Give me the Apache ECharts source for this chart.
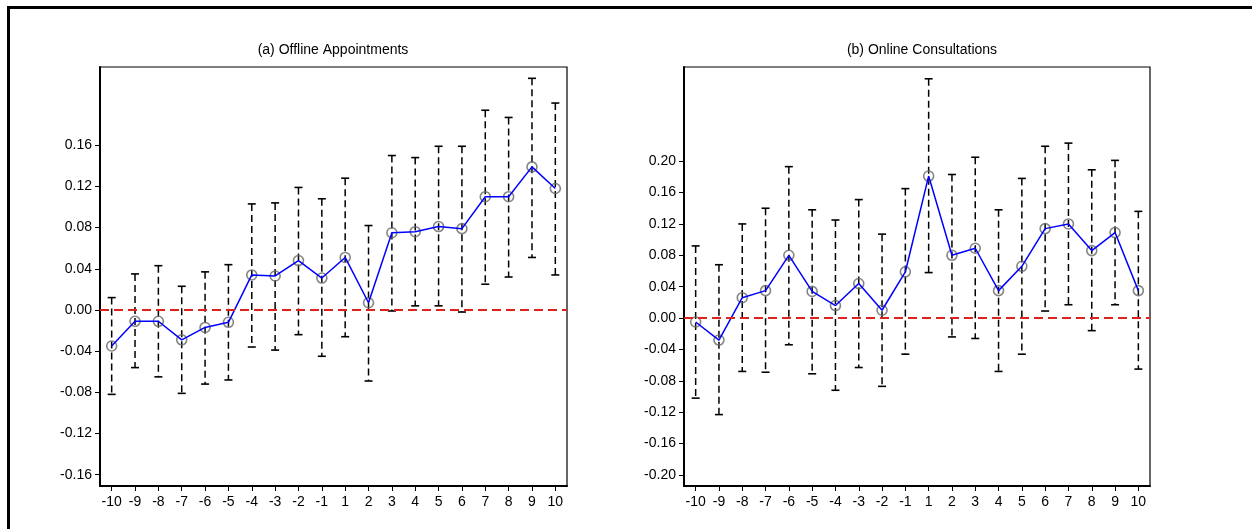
<!DOCTYPE html>
<html>
<head>
<meta charset="utf-8">
<script src="https://cdn.jsdelivr.net/npm/echarts@6/dist/echarts.min.js"></script>
<style>html,body{margin:0;padding:0;background:#fff}#c{width:1252px;height:529px}</style>
</head>
<body>
<div id="c"></div>
<script>
var periods = ['-10','-9','-8','-7','-6','-5','-4','-3','-2','-1','1','2','3','4','5','6','7','8','9','10'];

var offlineEst   = [-0.035,-0.011,-0.011,-0.029,-0.017,-0.012,0.034,0.033,0.048,0.031,0.051,0.007,0.075,0.076,0.081,0.079,0.110,0.110,0.139,0.118];
var offlineLower = [-0.082,-0.056,-0.065,-0.081,-0.072,-0.068,-0.036,-0.039,-0.024,-0.045,-0.026,-0.069,-0.001,0.004,0.004,-0.002,0.025,0.032,0.051,0.034];
var offlineUpper = [0.012,0.035,0.043,0.023,0.037,0.044,0.103,0.104,0.119,0.108,0.128,0.082,0.150,0.148,0.159,0.159,0.194,0.187,0.225,0.201];

var onlineEst   = [-0.005,-0.028,0.026,0.035,0.080,0.034,0.016,0.044,0.010,0.059,0.181,0.080,0.089,0.035,0.066,0.114,0.120,0.086,0.109,0.035];
var onlineLower = [-0.102,-0.123,-0.068,-0.069,-0.034,-0.071,-0.092,-0.063,-0.087,-0.046,0.058,-0.024,-0.026,-0.068,-0.046,0.009,0.017,-0.016,0.017,-0.065];
var onlineUpper = [0.092,0.068,0.120,0.140,0.193,0.138,0.125,0.151,0.107,0.165,0.305,0.183,0.205,0.138,0.178,0.219,0.223,0.189,0.201,0.136];

var offlineTicks = [-0.16,-0.12,-0.08,-0.04,0,0.04,0.08,0.12,0.16];
var onlineTicks  = [-0.20,-0.16,-0.12,-0.08,-0.04,0,0.04,0.08,0.12,0.16,0.20];

var titles = ['(a) Offline Appointments','(b) Online Consultations'];

var FONT = 'Liberation Sans, Arial, Helvetica, sans-serif';

function fmt(v){ var s = v.toFixed(2); return s === '-0.00' ? '0.00' : s; }

function bars(lo, hi){ return lo.map(function(l,i){ return [i, l, hi[i]]; }); }

function renderBar(params, api){
  var x = api.value(0), lo = api.value(1), hi = api.value(2);
  var pH = api.coord([x, hi]), pL = api.coord([x, lo]);
  var w = 4;
  var st = {stroke:'#000', lineWidth:1.6};
  return {type:'group', children:[
    {type:'line', shape:{x1:pH[0],y1:pH[1],x2:pL[0],y2:pL[1]}, style:{stroke:'#000', lineWidth:1.5, lineDash:[7,4]}},
    {type:'line', shape:{x1:pH[0]-w,y1:pH[1],x2:pH[0]+w,y2:pH[1]}, style:st},
    {type:'line', shape:{x1:pL[0]-w,y1:pL[1],x2:pL[0]+w,y2:pL[1]}, style:st}
  ]};
}

function yAxis(idx, min, max, ticks){
  return {
    type:'value', gridIndex:idx, min:min, max:max,
    splitLine:{show:false},
    axisLine:{show:true, lineStyle:{color:'#000', width:2}},
    axisTick:{show:true, length:5, customValues:ticks, lineStyle:{color:'#000', width:1}},
    axisLabel:{customValues:ticks, formatter:fmt, color:'#000', fontSize:14, fontFamily:FONT, margin:8}
  };
}
function xAxis(idx){
  return {
    type:'category', gridIndex:idx, data:periods, boundaryGap:true,
    axisLine:{show:true, onZero:false, lineStyle:{color:'#000', width:2}},
    axisTick:{show:true, alignWithLabel:true, interval:0, length:5, lineStyle:{color:'#000', width:1}},
    axisLabel:{interval:0, color:'#000', fontSize:14, fontFamily:FONT, margin:9},
    splitLine:{show:false}
  };
}

function seriesFor(idx, est, lo, hi){
  return [
    {type:'custom', xAxisIndex:idx, yAxisIndex:idx, data:bars(lo,hi), renderItem:renderBar, z:2, silent:true},
    {type:'scatter', xAxisIndex:idx, yAxisIndex:idx, data:est, symbol:'circle', symbolSize:10,
     itemStyle:{color:'rgba(0,0,0,0)', borderColor:'#666666', borderWidth:1.6}, z:3, silent:true},
    {type:'line', xAxisIndex:idx, yAxisIndex:idx, data:est, showSymbol:false, z:4, silent:true,
     lineStyle:{color:'#0000ff', width:1.5},
     markLine:{silent:true, symbol:['none','none'], label:{show:false},
       lineStyle:{color:'#e0221c', width:2, type:[9,5]}, data:[{yAxis:0}]}}
  ];
}

var chart = echarts.init(document.getElementById('c'), null, {renderer:'canvas'});
chart.setOption({
  animation:false,
  backgroundColor:'#fff',
  title:[
    {text:titles[0], left:328, top:38, textAlign:'center', textStyle:{fontSize:14, fontWeight:'normal', color:'#000', fontFamily:FONT}},
    {text:titles[1], left:917, top:38, textAlign:'center', textStyle:{fontSize:14, fontWeight:'normal', color:'#000', fontFamily:FONT}}
  ],
  grid:[
    {left:100, top:67, width:467, height:419, show:true, borderColor:'#000', borderWidth:1.2, backgroundColor:'#fff'},
    {left:684, top:67, width:466, height:419, show:true, borderColor:'#000', borderWidth:1.2, backgroundColor:'#fff'}
  ],
  xAxis:[xAxis(0), xAxis(1)],
  yAxis:[yAxis(0,-0.171,0.236,offlineTicks), yAxis(1,-0.214,0.32,onlineTicks)],
  series: seriesFor(0, offlineEst, offlineLower, offlineUpper).concat(seriesFor(1, onlineEst, onlineLower, onlineUpper)),
  graphic:[
    {type:'polyline', shape:{points:[[8.5,529],[8.5,7.5],[1252,7.5]]}, style:{stroke:'#000', lineWidth:3, fill:null}, silent:true}
  ]
});
</script>
</body>
</html>
